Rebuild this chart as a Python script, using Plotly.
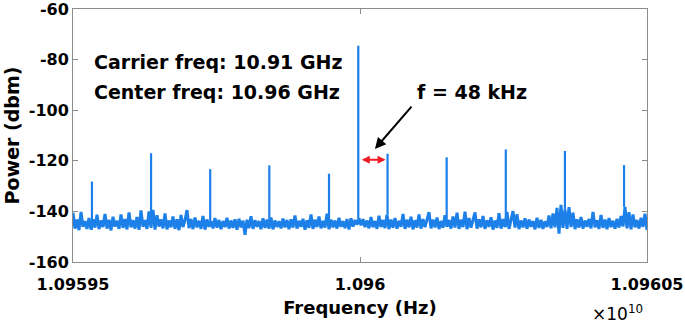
import numpy as np
import plotly.graph_objects as go

# ---------------- data ----------------
f_start = 1.09595e10
f_stop = 1.09605e10

# noise floor samples (dBm), evenly spaced across the span
noise_db = [
    -140.5, -146.8, -143.2, -147.4, -140.2, -146.1, -143.8, -146.9, -142.6, -147.2, -143.1, -146.4, -141.3, -147.0, -143.6, -146.2, -141.0, -146.8, -143.3, -147.5, -142.1, -146.0, -143.7, -146.9,
    -141.2, -146.5, -143.0, -147.1, -140.4, -146.3, -143.5, -146.8, -142.2, -147.3, -139.6, -146.1, -143.4, -146.9, -140.0, -146.4, -139.4, -147.2, -141.5, -146.0, -143.2, -146.7, -140.8, -147.1,
    -143.6, -146.3, -142.0, -146.9, -143.1, -147.4, -141.4, -146.2, -143.5, -139.5, -146.6, -143.0, -147.0, -142.4, -146.3, -143.7, -146.9, -141.8, -147.2, -143.2, -146.1, -143.9, -146.7, -142.6,
    -146.4, -143.4, -147.0, -143.8, -146.2, -142.5, -146.8, -143.6, -146.5, -143.1, -147.2, -142.9, -146.3, -143.7, -149.2, -143.3, -146.6, -141.9, -146.9, -143.5, -146.1, -143.8, -147.0, -142.7,
    -146.5, -143.2, -146.8, -142.4, -147.1, -143.6, -146.2, -143.9, -146.7, -142.8, -146.3, -143.4, -147.0, -143.1, -146.4, -141.6, -146.8, -143.7, -146.1, -142.9, -147.2, -143.5, -146.5, -141.2,
    -146.9, -143.3, -146.2, -142.0, -146.7, -143.8, -146.4, -140.9, -147.0, -143.2, -146.3, -143.6, -146.8, -142.5, -146.1, -143.9, -146.6, -143.0, -147.1, -142.7, -146.0, -143.4, -145.2, -142.8,
    -145.5, -143.1, -146.2, -143.6, -146.7, -142.2, -146.3, -143.8, -146.9, -141.7, -146.2, -143.4, -146.6, -141.3, -147.0, -143.2, -146.4, -142.6, -146.8, -143.7, -146.1, -141.0, -146.9, -143.3,
    -146.3, -142.1, -147.1, -143.5, -146.4, -141.2, -146.8, -143.0, -146.2, -143.6, -140.3, -146.7, -143.2, -146.3, -142.4, -147.0, -143.8, -146.5, -141.5, -146.1, -143.4, -146.8, -142.0, -146.4,
    -140.5, -146.9, -143.3, -146.2, -140.1, -147.0, -142.6, -146.4, -143.7, -140.4, -146.8, -143.1, -146.3, -141.8, -146.9, -143.5, -146.1, -142.3, -147.2, -143.6, -146.5, -140.7, -146.8, -143.0,
    -146.2, -140.2, -146.9, -143.4, -139.9, -146.4, -141.1, -147.0, -143.6, -146.3, -142.7, -146.8, -143.2, -146.1, -143.8, -147.1, -142.5, -146.5, -143.3, -146.9, -143.9, -146.2, -141.6, -146.7,
    -140.8, -146.3, -138.6, -148.8, -137.4, -146.5, -139.2, -146.9, -138.3, -146.2, -140.5, -147.0, -143.1, -146.4, -142.2, -146.8, -143.6, -146.1, -143.0, -146.7, -140.2, -146.3, -143.5, -146.9,
    -141.4, -146.5, -143.2, -147.0, -142.6, -146.2, -143.7, -146.8, -142.9, -146.4, -141.8, -146.0, -138.2, -146.7, -140.3, -147.1, -141.2, -146.3, -143.4, -146.8, -142.5, -146.1, -140.9, -147.4,
]

# spectral lines: offset from 1.096e10 (kHz) and peak power (dBm)
peak_offset_khz = [-467, -364, -261, -158, -54, -3, 48, 151, 254, 357, 460]
peak_db = [-128.2, -117.0, -123.3, -121.8, -125.1, -74.5, -117.2, -118.6, -115.5, -116.1, -121.7]

x_tickvals = [1.09595e10, 1.096e10, 1.09605e10]
x_ticktext = ["1.09595", "1.096", "1.09605"]
y_tickvals = [-160, -140, -120, -100, -80, -60]
y_ticktext = ["-160", "-140", "-120", "-100", "-80", "-60"]

# ---------------- build traces ----------------
noise_f = np.linspace(f_start, f_stop, len(noise_db))
peak_f = [1.096e10 + off * 1e3 for off in peak_offset_khz]
px, py = [], []
for f, p in zip(peak_f, peak_db):
    idx = int(np.argmin(np.abs(noise_f - f)))
    px += [f, f, None]
    py += [noise_db[idx], p, None]

FONT = "DejaVu Sans"
BLUE = "#1c80e8"
AXC = "#8c8c8c"

fig = go.Figure()
fig.add_trace(go.Scatter(x=noise_f, y=noise_db, mode="lines",
                         line=dict(color=BLUE, width=3), hoverinfo="skip",
                         showlegend=False))
fig.add_trace(go.Scatter(x=px, y=py, mode="lines",
                         line=dict(color=BLUE, width=2.2), hoverinfo="skip",
                         showlegend=False))

carrier_f = peak_f[5]
side_f = peak_f[6]

annotations = [
    dict(text="Carrier freq: 10.91 GHz", xref="paper", yref="paper", x=0.033, y=0.79,
         xanchor="left", yanchor="middle", showarrow=False,
         font=dict(family=FONT, size=19, color="black", weight="bold")),
    dict(text="Center freq: 10.96 GHz", xref="paper", yref="paper", x=0.033, y=0.672,
         xanchor="left", yanchor="middle", showarrow=False,
         font=dict(family=FONT, size=19, color="black", weight="bold")),
    dict(text="f = 48 kHz", xref="paper", yref="paper", x=0.595, y=0.672,
         xanchor="left", yanchor="middle", showarrow=False,
         font=dict(family=FONT, size=19, color="black", weight="bold")),
    # black arrow
    dict(x=1.096e10 + 26000, y=-115.3, ax=1.096e10 + 92000, ay=-98.0,
         xref="x", yref="y", axref="x", ayref="y", text="", showarrow=True,
         arrowhead=2, arrowsize=1.1, arrowwidth=2, arrowcolor="black"),
    # red double arrow
    dict(x=side_f, y=-119.6, ax=carrier_f, ay=-119.6,
         xref="x", yref="y", axref="x", ayref="y", text="", showarrow=True,
         arrowhead=2, startarrowhead=2, arrowside="end+start", arrowsize=0.8,
         startarrowsize=0.8, arrowwidth=2, arrowcolor="#ee1c25",
         standoff=2, startstandoff=2),
    dict(text="\u00d710<sup>10</sup>", xref="paper", yref="paper", x=0.9, y=-0.2,
         xanchor="left", yanchor="middle", showarrow=False,
         font=dict(family=FONT, size=17, color="black")),
]

fig.update_layout(
    width=685, height=324,
    margin=dict(l=73, r=38, t=9, b=62),
    paper_bgcolor="white", plot_bgcolor="white",
    annotations=annotations,
    showlegend=False,
)
fig.update_xaxes(
    range=[f_start, f_stop], tickvals=x_tickvals, ticktext=x_ticktext,
    ticks="inside", ticklen=5, tickcolor=AXC, showline=True, linecolor=AXC,
    linewidth=1, mirror="ticks", showgrid=False, zeroline=False,
    automargin=False, ticklabeloverflow="allow", ticklabelstandoff=8,
    tickfont=dict(family=FONT, size=16, color="black", weight="bold"),
    title=dict(text="Frequency (Hz)", standoff=8,
               font=dict(family=FONT, size=18, color="black", weight="bold")),
)
fig.update_yaxes(
    range=[-160, -60], tickvals=y_tickvals, ticktext=y_ticktext,
    ticks="inside", ticklen=5, tickcolor=AXC, showline=True, linecolor=AXC,
    linewidth=1, mirror="ticks", showgrid=False, zeroline=False,
    automargin=False, ticklabeloverflow="allow",
    tickfont=dict(family=FONT, size=16, color="black", weight="bold"),
    title=dict(text="Power (dbm)", standoff=4,
               font=dict(family=FONT, size=19, color="black", weight="bold")),
)

fig.write_html("out.html", config={"displayModeBar": False},
               post_script="document.body.style.margin='0';")
